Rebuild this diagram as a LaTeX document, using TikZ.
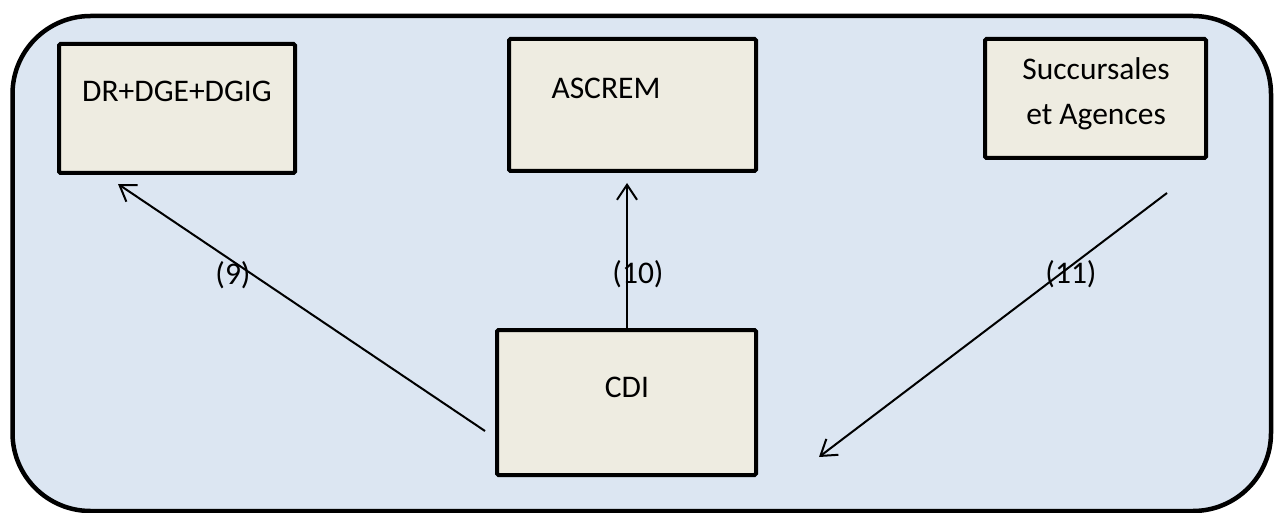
\documentclass[tikz,border=0pt]{standalone}
\usepackage{fontspec}
\setmainfont{Carlito}
\usetikzlibrary{arrows.meta}
\definecolor{bgblue}{RGB}{220,230,242}
\definecolor{boxfill}{RGB}{238,236,225}
\tikzset{
  boxnode/.style={draw=black, fill=boxfill, line width=4pt, inner sep=0pt, outer sep=0pt, rounded corners=1.5pt},
  txt/.style={font=\fontsize{31.5}{45}\selectfont, anchor=base, inner sep=0pt, align=center},
  conn/.style={line width=2pt, -{Straight Barb[length=15pt,width=20pt,line width=2pt]}},
}
\begin{document}
\begin{tikzpicture}[x=1pt,y=-1pt]
\useasboundingbox (0,0) rectangle (1279,513);
\draw[line width=4.5pt, fill=bgblue, rounded corners=78pt] (12.5,16) rectangle (1271,511);
% boxes
\node[boxnode, minimum width=236pt, minimum height=129pt] (dr) at (177,108.5) {};
\node[boxnode, minimum width=247pt, minimum height=132pt] (as) at (632.5,105) {};
\node[boxnode, minimum width=221pt, minimum height=119pt] (su) at (1095.5,98.5) {};
\node[boxnode, minimum width=259pt, minimum height=145pt] (cdi) at (626.5,402.5) {};
% texts
\node[txt] (tdr) at (177,102) {DR+DGE+DGIG};
\node[txt] (tas) at (606,99) {ASCREM};
\node[txt] (tsu) at (1096,125) {Succursales\\et Agences};
\node[txt] (tcdi) at (627,397) {CDI};
% connector ends
\coordinate (s9) at (485,431);
\coordinate (e9) at (118,184);
\coordinate (e10) at (627,183);
\coordinate (s11) at (1167,193);
\coordinate (e11) at (819,457);
\draw[conn] (s9) -- (e9);
\draw[conn] (cdi.north -| e10) -- (e10);
\draw[conn] (s11) -- (e11);
% labels
\node[txt] (l9) at (233,284) {(9)};
\node[txt] (l10) at (638,283) {(10)};
\node[txt] (l11) at (1071,283) {(11)};
\end{tikzpicture}
\end{document}
